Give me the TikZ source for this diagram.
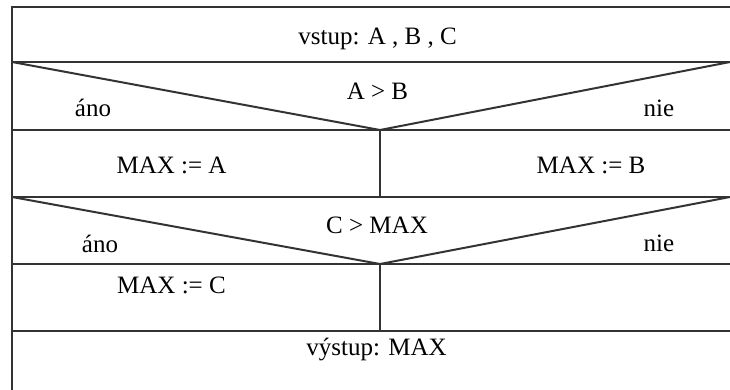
\documentclass[tikz,border=0pt]{standalone}
\usepackage{fontspec}
\setmainfont{Liberation Serif}
\begin{document}
\begin{tikzpicture}[x=1pt,y=-1pt,
  frame/.style={line width=2pt,draw=black!80},
  lbl/.style={anchor=base,inner sep=0pt,font=\fontsize{25}{30}\selectfont}]
\useasboundingbox (0,0) rectangle (730,390);
% outline
\draw[frame] (12,390) -- (12,7) -- (730,7);
\draw[frame] (12,62) -- (730,62);
\draw[frame] (12,130) -- (730,130);
\draw[frame] (12,197) -- (730,197);
\draw[frame] (12,264) -- (730,264);
\draw[frame] (12,331) -- (730,331);
% decisions
\draw[frame] (12,62) -- (380,130) -- (730,62);
\draw[frame] (12,197) -- (380,264) -- (730,197);
% branch dividers
\draw[frame] (380,130) -- (380,197);
\draw[frame] (380,264) -- (380,331);
% texts
\node[lbl] (in) at (377.5,45) {vstup: A , B , C};
\node[lbl] (c1) at (377.5,100) {A > B};
\node[lbl] (y1) at (93,117) {áno};
\node[lbl] (n1) at (659,117) {nie};
\node[lbl] (sa) at (171.5,174) {MAX := A};
\node[lbl] (sb) at (591,174) {MAX := B};
\node[lbl] (c2) at (377,233) {C > MAX};
\node[lbl] (y2) at (100,252) {áno};
\node[lbl] (n2) at (659,251) {nie};
\node[lbl] (sc) at (171.5,293) {MAX := C};
\node[lbl] (out) at (376.5,355) {výstup: MAX};
\end{tikzpicture}
\end{document}
